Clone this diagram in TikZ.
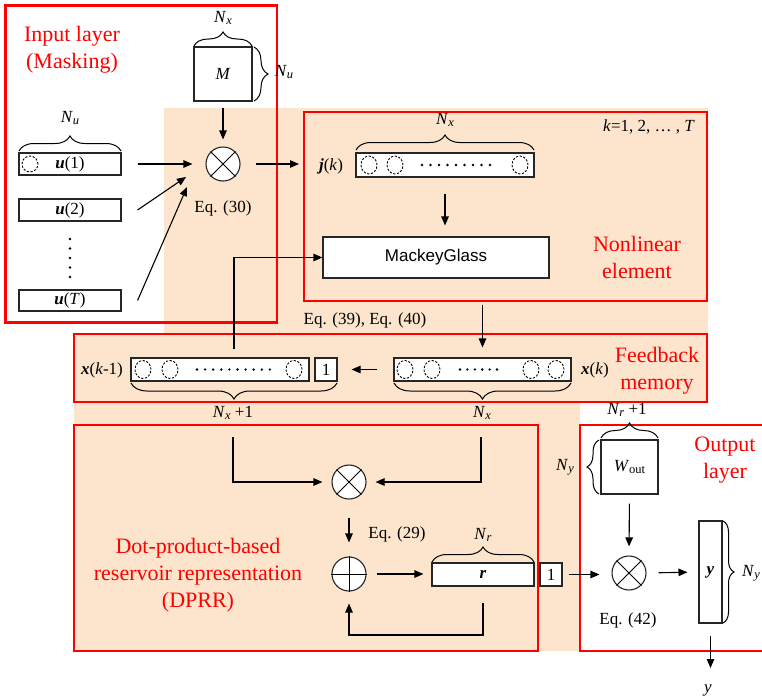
\documentclass[tikz,border=0pt]{standalone}
\usepackage{fontspec}
\setmainfont{Liberation Serif}
\newfontfamily\mgfont{Liberation Sans}
\usetikzlibrary{arrows.meta,calc,shapes,decorations.pathreplacing}

\definecolor{peach}{RGB}{253,229,205}

\newcommand{\subTxt}[1]{\raisebox{-0.3ex}{\fontsize{12.5}{13}\selectfont #1}}
\newcommand{\Nsub}[1]{\textit{N}\subTxt{\textit{#1}}}
\newcommand{\bvec}[1]{\textbf{\textit{#1}}}

\begin{document}
\begin{tikzpicture}[x=1pt,y=-1pt,font=\fontsize{17}{20}\selectfont]

\tikzset{redBox/.style={draw=red, line width=2.6pt, inner sep=0pt},
redText/.style={text=red, font=\fontsize{22}{27}\selectfont, align=center},
vecBox/.style={draw=black!85, line width=1.1pt, fill=white, inner sep=0pt},
opNode/.style={circle, draw=black!85, line width=1.1pt, fill=white, minimum size=34pt, inner sep=0pt},
myArrow/.style={-{Triangle[length=9pt,width=7.5pt]}, line width=1.1pt},
dashCirc/.style={draw=black, line width=0.9pt, dash pattern=on 2.2pt off 1.6pt},
brc/.style={decorate, decoration={brace, amplitude=#1}, line width=1pt},
brc/.default={14pt}}

\useasboundingbox (0,0) rectangle (762,699);

% background of the reservoir part
\fill[peach] (164,108) -- (708,108) -- (708,403) -- (580,403) -- (580,651)
  -- (74,651) -- (74,333) -- (164,333) -- cycle;

% layer frames
\node[redBox, minimum width=271.5pt, minimum height=317pt] (inputBox) at (141.25,164) {};
\node[redBox, minimum width=403pt, minimum height=189pt] (nlBox) at (505.5,206.5) {};
\node[redBox, minimum width=633pt, minimum height=68pt] (fbBox) at (390.5,368) {};
\node[redBox, minimum width=464pt, minimum height=226pt] (dprrBox) at (306,538) {};
\node[redBox, minimum width=190pt, minimum height=226pt] (outBox) at (675,538) {};

\node[redText] (inText) at (72,50) {Input layer\\(Masking)};
\node[redText] (nlText) at (637,257) {Nonlinear\\element};
\node[redText] (fbText) at (657,371) {Feedback\\memory};
\node[redText] (dprrText) at (198,575) {Dot-product-based\\reservoir representation\\(DPRR)};
\node[redText] (outText) at (725,460) {Output\\layer};

%input layer
\node[vecBox, minimum width=58pt, minimum height=54pt] (boxM) at (223,74) {\textit{M}};
\draw[brc] (194,46) -- (252,46);
\node (lblNxM) at (223,18) {\Nsub{x}};
\draw[brc] (254,47) -- (254,101);
\node (lblNuM) at (284,72) {\Nsub{u}};

\node[vecBox, minimum width=102pt, minimum height=22pt] (boxU1) at (70,164) {\bvec{u}(1)};
\node[vecBox, minimum width=102pt, minimum height=22pt] (boxU2) at (70,210) {\bvec{u}(2)};
\node[vecBox, minimum width=102pt, minimum height=21pt] (boxUT) at (70,300.5) {\bvec{u}(\textit{T})};
\draw[dashCirc] (30,164) ellipse [x radius=8pt, y radius=8pt];
\draw[brc={15pt}] (19,151) -- (121,151);
\node (lblNu) at (70,118) {\Nsub{u}};
\foreach \y in {239,248.5,258,267.5,277}
  \fill (70,\y) circle (1.3pt);

\node[opNode] (maskOp) at (223,164) {};
\draw[line width=1pt] (maskOp.north west) -- (maskOp.south east) (maskOp.north east) -- (maskOp.south west);
\node (lblEq30) at (223,208) {Eq. (30)};

\coordinate (u2Tip) at (186,177);
\coordinate (uTTip) at (187,187);
\coordinate (jIn) at (299,164);
\draw[myArrow, shorten <=6pt, shorten >=7pt] (boxM.south) -- (maskOp.north);
\draw[myArrow, shorten <=16pt, shorten >=13pt] (boxU1.east) -- (maskOp.west);
\draw[myArrow] ([xshift=16pt]boxU2.east) -- (u2Tip);
\draw[myArrow] ([xshift=16pt]boxUT.east) -- (uTTip);
\draw[myArrow, shorten <=15pt] (maskOp.east) -- (jIn);

%nonlinear element
\node (lblJ) at (331,166) {\bvec{j}(\textit{k})};
\node[vecBox, minimum width=178pt, minimum height=24pt] (boxJ) at (445,165) {};
\foreach \x in {369,395,520}
  \draw[dashCirc] (\x,165) ellipse [x radius=8pt, y radius=9pt];
\foreach \i in {0,...,8}
  \fill (422+8.5*\i,165) circle (1.3pt);
\draw[brc={15pt}] (356,150) -- (534,150);
\node (lblNxJ) at (445,120) {\Nsub{x}};
\node (lblK) at (649,127) {\textit{k}=1, 2, … , \textit{T}};

\node[vecBox, minimum width=226pt, minimum height=41pt] (boxMG) at (436,257.5) {\mgfont MackeyGlass};
\draw[myArrow, shorten <=16pt, shorten >=11pt] (boxJ.south) -- (boxJ.south |- boxMG.north);

\node (lblEq3940) at (365,320) {Eq. (39), Eq. (40)};

%feedback memory
\node (lblXkm) at (102,370) {\bvec{x}(\textit{k}-1)};
\node[vecBox, minimum width=178pt, minimum height=23pt] (boxXkm) at (220,369.5) {};
\node[vecBox, minimum width=22pt, minimum height=23pt] (boxOne) at (326,369.5) {1};
\foreach \x in {143,170,294}
  \draw[dashCirc] (\x,369.5) ellipse [x radius=8pt, y radius=9pt];
\foreach \i in {0,...,9}
  \fill (197+8.1*\i,369.5) circle (1.3pt);

\node (lblXk) at (595,370) {\bvec{x}(\textit{k})};
\node[vecBox, minimum width=177pt, minimum height=23pt] (boxXk) at (482.5,369.5) {};
\foreach \x in {405,432,531,556}
  \draw[dashCirc] (\x,369.5) ellipse [x radius=8pt, y radius=9pt];
\foreach \i in {0,...,5}
  \fill (460+7.4*\i,369.5) circle (1.3pt);

\draw[brc={16pt}] (337,383) -- (131,383);
\draw[brc={16pt}] (571,383) -- (394,383);
\node (lblNx1) at (233,413) {\Nsub{x} +1};
\node (lblNx) at (482,413) {\Nsub{x}};

\coordinate (fbUp) at (234,349);
\draw[myArrow] (fbUp) |- (boxMG.west);
\draw[myArrow, shorten <=3pt, shorten >=10pt] (nlBox.south -| boxXk.north) -- (boxXk.north);
\draw[myArrow, shorten <=16pt, shorten >=14pt] (boxXk.west) -- (boxOne.east);

%DPRR
\node[opNode] (resOp) at (349,482) {};
\draw[line width=1pt] (resOp.north west) -- (resOp.south east) (resOp.north east) -- (resOp.south west);
\node[opNode] (sumOp) at (349,574) {};
\draw[line width=1pt] (sumOp.north) -- (sumOp.south) (sumOp.east) -- (sumOp.west);
\node (lblEq29) at (397,534) {Eq. (29)};

\node[vecBox, minimum width=102pt, minimum height=23pt] (boxR) at (483,574.5) {\bvec{r}};
\node[vecBox, minimum width=22pt, minimum height=23pt] (boxOneR) at (551,574.5) {1};
\draw[brc={15pt}] (432,562) -- (534,562);
\node (lblNr) at (483,535) {\Nsub{r}};

\coordinate (dpL) at (233,437);
\coordinate (dpR) at (481,437);
\coordinate (loopY) at (0,635);
\draw[myArrow, shorten >=9pt] (dpL) |- (resOp.west);
\draw[myArrow, shorten >=9pt] (dpR) |- (resOp.east);
\draw[myArrow, shorten <=18pt, shorten >=14pt] (resOp.south) -- (sumOp.north);
\draw[myArrow, shorten <=10pt, shorten >=8pt] (sumOp.east) -- (sumOp.east -| boxR.west);
\draw[myArrow, shorten <=16pt, shorten >=12pt] (boxR.south) -- (boxR.south |- loopY) -| (sumOp.south);

%output layer
\node[vecBox, minimum width=57pt, minimum height=54pt] (boxW) at (629.5,467) {\textit{W}\subTxt{out}};
\draw[brc={15pt}] (601,438) -- (658,438);
\node (lblNr1) at (627,410) {\Nsub{r} +1};
\draw[brc={12pt}] (599,494) -- (599,440);
\node (lblNy1) at (565,467) {\Nsub{y}};

\node[opNode] (outOp) at (629,573) {};
\draw[line width=1pt] (outOp.north west) -- (outOp.south east) (outOp.north east) -- (outOp.south west);
\node (lblEq42) at (628,620) {Eq. (42)};

\node[vecBox, minimum width=23pt, minimum height=102pt] (boxY) at (710.5,572) {\bvec{y}};
\draw[brc={11pt}] (723,521) -- (723,623);
\node (lblNy2) at (751,573) {\Nsub{y}};
\node (lblY) at (708,690) {\textit{y}};
\coordinate (yOut) at (710.5,668);

\draw[myArrow, shorten <=9pt, shorten >=9pt] (boxW.south) -- (outOp.north);
\draw[myArrow, shorten <=6pt, shorten >=12pt] (boxOneR.east) -- (boxOneR.east -| outOp.west);
\draw[myArrow, shorten <=12pt, shorten >=11pt] (outOp.east) -- (boxY.west);
\draw[myArrow, shorten <=12pt] (boxY.south) -- (yOut);

\end{tikzpicture}
\end{document}
